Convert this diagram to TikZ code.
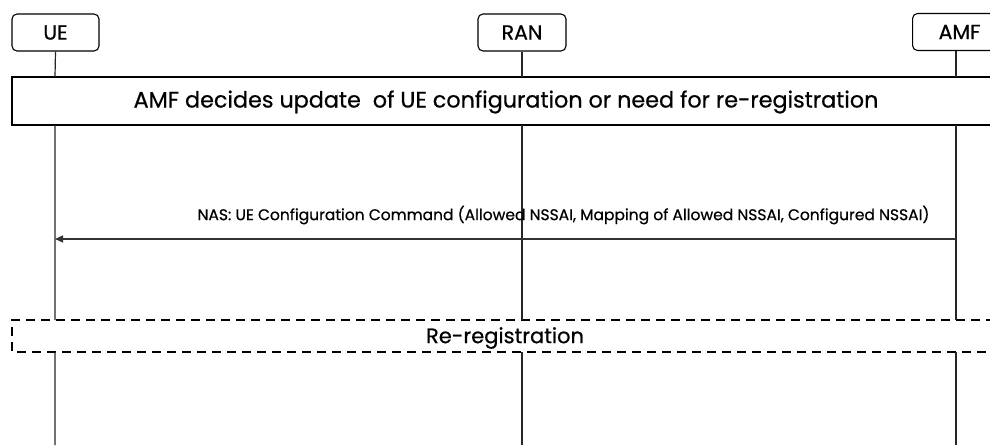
\documentclass[tikz,border=0pt]{standalone}
\usepackage{fontspec}
\setmainfont{Poppins}[FakeBold=0.6]
\usetikzlibrary{arrows.meta}
\begin{document}
\begin{tikzpicture}[x=1pt,y=-1pt,
  entity/.style={draw,rounded corners=5pt,line width=1.1pt,minimum height=37pt,inner sep=0pt,font=\fontsize{20.5}{24}\selectfont},
  life/.style={line width=1.2pt,draw=black!85},
  bigbox/.style={draw,line width=2pt},
  dashbox/.style={draw,line width=1.7pt,dash pattern=on 9pt off 6pt},
  msg/.style={line width=1.3pt,draw=black!80,-{Triangle[length=8pt,width=7pt]}},
  boxtext/.style={font=\fontsize{22.3}{26}\selectfont},
  retext/.style={font=\fontsize{21}{25}\selectfont},
  msgtext/.style={font=\fontsize{15.5}{18}\selectfont}]
\useasboundingbox (0,0) rectangle (990,445);
\clip (0,0) rectangle (990,445);
\node[entity,minimum width=87pt] (ue) at (55.5,32.5) {\raisebox{-1.5pt}{UE}};
\node[entity,minimum width=88pt] (ran) at (522,32.5) {\raisebox{-1.5pt}{RAN}};
\node[entity,minimum width=94pt,anchor=west] (amf) at (912,32) {\raisebox{-1.5pt}{AMF}};
\coordinate (amfx) at (956,32);
% big box
\draw[bigbox] (12,77) rectangle (1010,125);
\node[boxtext] (dec) at (506,102) {AMF decides update\ \ of UE configuration or need for re-registration};
% dashed box
\draw[dashbox] (1010,320) -- (12,320) -- (12,352) -- (1010,352);
\node[retext] (rereg) at (505,338) {Re-registration};
% lifelines
\coordinate (ueA) at (55,77); \coordinate (ueB) at (55,125); \coordinate (ueC) at (55,320); \coordinate (ueD) at (55,352); \coordinate (ueE) at (55,445);
\coordinate (ranA) at (522,77); \coordinate (ranB) at (522,125); \coordinate (ranC) at (522,320); \coordinate (ranD) at (522,352); \coordinate (ranE) at (522,445);
\coordinate (amfA) at (956,77); \coordinate (amfB) at (956,125); \coordinate (amfC) at (956,320); \coordinate (amfD) at (956,352); \coordinate (amfE) at (956,445);
\draw[life] (ue.south) -- (ueA) (ueB) -- (ueC) (ueD) -- (ueE);
\draw[life] (ran.south) -- (ranA) (ranB) -- (ranC) (ranD) -- (ranE);
\draw[life] (amfx |- amf.south) -- (amfA) (amfB) -- (amfC) (amfD) -- (amfE);
% message
\coordinate (m1) at (956,239); \coordinate (m2) at (55,239);
\draw[msg] (m1) -- (m2);
\node[msgtext,anchor=east] (lbl) at (933,215) {NAS: UE Configuration Command (Allowed NSSAI, Mapping of Allowed NSSAI, Configured NSSAI)};
\end{tikzpicture}
\end{document}
